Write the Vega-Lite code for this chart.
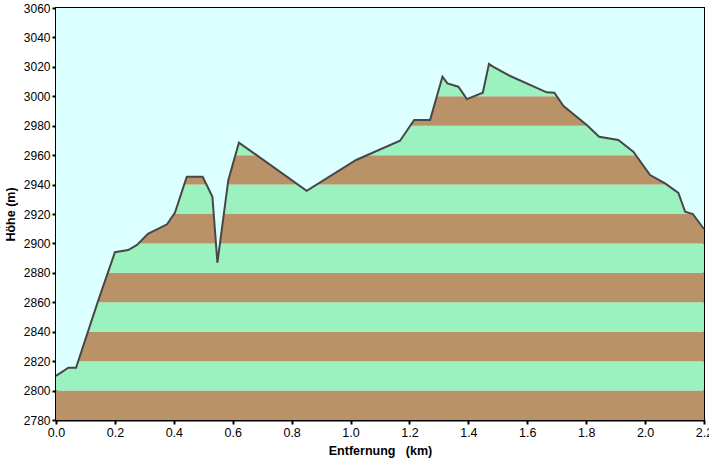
{
  "$schema": "https://vega.github.io/schema/vega-lite/v6.json",
  "width": 648,
  "height": 412,
  "autosize": "none",
  "padding": {"left": 56, "top": 8, "right": 5, "bottom": 45},
  "background": "white",
  "config": {
    "view": {"fill": "#DCFFFF", "stroke": "black", "strokeWidth": 2},
    "font": "Liberation Sans",
    "axis": {
      "domainColor": "black", "domainWidth": 2, "tickColor": "black", "tickWidth": 2, "tickSize": 4,
      "labelFont": "Liberation Sans", "labelFontSize": 12.5, "labelColor": "black",
      "labelOverlap": false, "labelFlush": false, "labelBound": false,
      "titleFont": "Liberation Sans", "titleFontSize": 12.5, "titleFontWeight": "bold", "titleColor": "black",
      "grid": false
    }
  },
  "datasets": {
    "bands": [
      {"lo": 2780, "hi": 2800, "band": "brown"},
      {"lo": 2800, "hi": 2820, "band": "green"},
      {"lo": 2820, "hi": 2840, "band": "brown"},
      {"lo": 2840, "hi": 2860, "band": "green"},
      {"lo": 2860, "hi": 2880, "band": "brown"},
      {"lo": 2880, "hi": 2900, "band": "green"},
      {"lo": 2900, "hi": 2920, "band": "brown"},
      {"lo": 2920, "hi": 2940, "band": "green"},
      {"lo": 2940, "hi": 2960, "band": "brown"},
      {"lo": 2960, "hi": 2980, "band": "green"},
      {"lo": 2980, "hi": 3000, "band": "brown"},
      {"lo": 3000, "hi": 3020, "band": "green"},
      {"lo": 3020, "hi": 3040, "band": "brown"}
    ],
    "profile": [
      {"km": 0.0, "elev": 2810},
      {"km": 0.042, "elev": 2815.5},
      {"km": 0.068, "elev": 2815.5},
      {"km": 0.143, "elev": 2861},
      {"km": 0.2, "elev": 2894},
      {"km": 0.245, "elev": 2895.5},
      {"km": 0.275, "elev": 2899},
      {"km": 0.312, "elev": 2906.5},
      {"km": 0.377, "elev": 2913},
      {"km": 0.404, "elev": 2921},
      {"km": 0.444, "elev": 2945.3},
      {"km": 0.498, "elev": 2945.3},
      {"km": 0.531, "elev": 2931.7},
      {"km": 0.548, "elev": 2886.9},
      {"km": 0.585, "elev": 2943},
      {"km": 0.621, "elev": 2968.5},
      {"km": 0.851, "elev": 2935.8},
      {"km": 1.019, "elev": 2956.7},
      {"km": 1.168, "elev": 2969.8},
      {"km": 1.216, "elev": 2983.9},
      {"km": 1.27, "elev": 2983.9},
      {"km": 1.312, "elev": 3013.3},
      {"km": 1.329, "elev": 3008.8},
      {"km": 1.366, "elev": 3006.5},
      {"km": 1.395, "elev": 2998.1},
      {"km": 1.449, "elev": 3002.4},
      {"km": 1.47, "elev": 3022},
      {"km": 1.485, "elev": 3020},
      {"km": 1.542, "elev": 3013.8},
      {"km": 1.666, "elev": 3002.7},
      {"km": 1.692, "elev": 3002.4},
      {"km": 1.723, "elev": 2993.4},
      {"km": 1.802, "elev": 2980.5},
      {"km": 1.844, "elev": 2972.5},
      {"km": 1.909, "elev": 2970.3},
      {"km": 1.96, "elev": 2962.3},
      {"km": 2.017, "elev": 2946.5},
      {"km": 2.068, "elev": 2940.8},
      {"km": 2.113, "elev": 2934.4},
      {"km": 2.136, "elev": 2921.5},
      {"km": 2.162, "elev": 2920},
      {"km": 2.2, "elev": 2909.8}
    ]
  },
  "layer": [
    {
      "data": {"name": "bands"},
      "mark": {"type": "rect", "clip": true},
      "encoding": {
        "y": {"field": "lo", "type": "quantitative",
              "scale": {"domain": [2780, 3060], "nice": false, "zero": false},
              "axis": {"values": [2780,2800,2820,2840,2860,2880,2900,2920,2940,2960,2980,3000,3020,3040,3060], "format": "d", "title": "Höhe (m)", "titlePadding": 6, "labelOverlap": false, "labelFontSize": 12}},
        "y2": {"field": "hi"},
        "color": {"field": "band", "type": "nominal",
                  "scale": {"domain": ["brown", "green"], "range": ["#B99267", "#9CF2BE"]},
                  "legend": null}
      }
    },
    {
      "data": {"name": "profile"},
      "mark": {"type": "area", "fill": "#DCFFFF", "clip": true},
      "encoding": {
        "x": {"field": "km", "type": "quantitative",
              "scale": {"domain": [0, 2.2], "nice": false, "zero": false},
              "axis": {"values": [0,0.2,0.4,0.6,0.8,1.0,1.2,1.4,1.6,1.8,2.0,2.2], "format": ".1f", "title": "Entfernung\u00a0\u00a0 (km)", "titlePadding": 6, "labelOverlap": false}},
        "y": {"field": "elev", "type": "quantitative",
              "axis": {"values": [2780,2800,2820,2840,2860,2880,2900,2920,2940,2960,2980,3000,3020,3040,3060], "format": "d", "title": "Höhe (m)", "titlePadding": 6, "labelOverlap": false, "labelFontSize": 12}},
        "y2": {"datum": 3060}
      }
    },
    {
      "data": {"name": "profile"},
      "mark": {"type": "line", "color": "#474747", "strokeWidth": 2},
      "encoding": {
        "x": {"field": "km", "type": "quantitative",
              "axis": {"values": [0,0.2,0.4,0.6,0.8,1.0,1.2,1.4,1.6,1.8,2.0,2.2], "format": ".1f", "title": "Entfernung\u00a0\u00a0 (km)", "titlePadding": 6, "labelOverlap": false}},
        "y": {"field": "elev", "type": "quantitative",
              "axis": {"values": [2780,2800,2820,2840,2860,2880,2900,2920,2940,2960,2980,3000,3020,3040,3060], "format": "d", "title": "Höhe (m)", "titlePadding": 6, "labelOverlap": false, "labelFontSize": 12}}
      }
    }
  ]
}
